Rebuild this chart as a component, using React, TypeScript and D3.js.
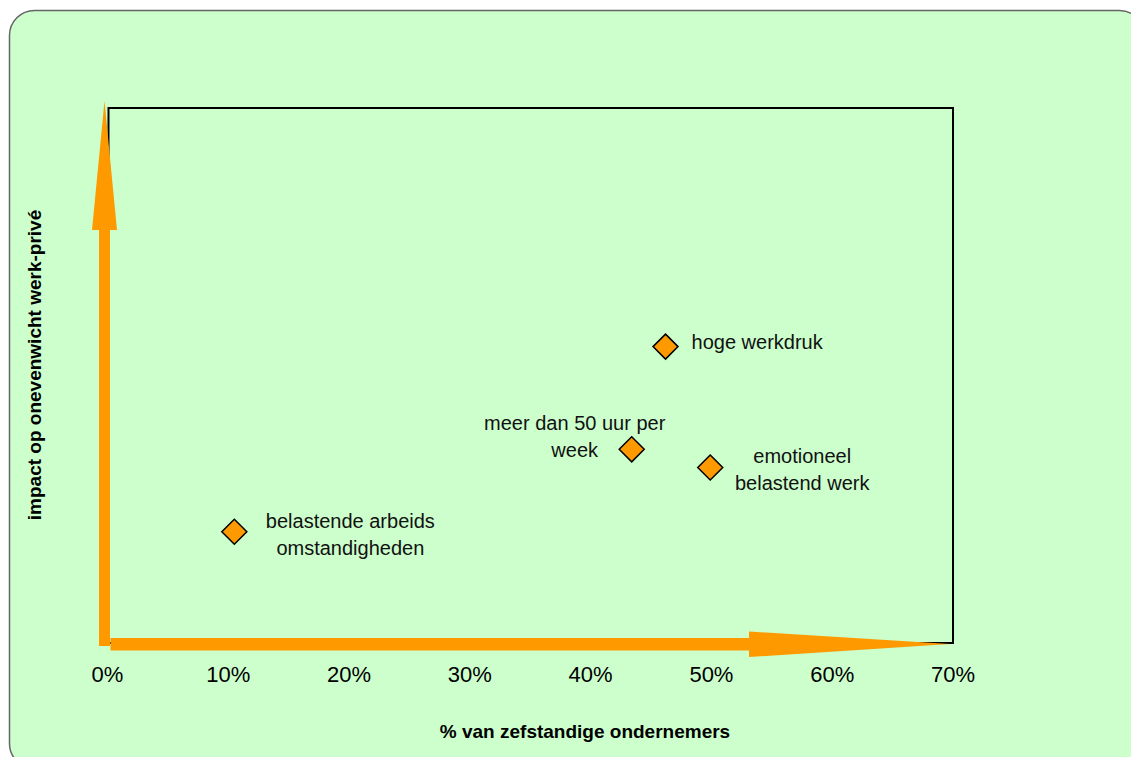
import React from "react";
import * as d3 from "d3";

const categories: string[][] = [
  ["hoge werkdruk"],
  ["meer dan 50 uur per", "week"],
  ["emotioneel", "belastend werk"],
  ["belastende arbeids", "omstandigheden"],
];
const xValues: number[] = [0.462, 0.434, 0.499, 0.105];
const yValues: number[] = [55.4, 36.2, 32.8, 20.8];
const xTicks: number[] = [0, 0.1, 0.2, 0.3, 0.4, 0.5, 0.6, 0.7];
const xTitle = "% van zefstandige ondernemers";
const yTitle = "impact op onevenwicht werk-privé";

// label placement relative to the marker (layout only)
const labelLayout = [
  { dx: 26, dy: 2.5, anchor: "start" },
  { dx: -57, dy: -19, anchor: "middle" },
  { dx: 92, dy: -5, anchor: "middle" },
  { dx: 116, dy: -4, anchor: "middle" },
];

const W = 1131;
const H = 757;
const FONT = "'Liberation Sans', Arial, sans-serif";
const ORANGE = "#FF9900";

export default function App() {
  const x = d3.scaleLinear().domain([0, 0.7]).range([107.5, 953]);
  const y = d3.scaleLinear().domain([0, 100]).range([643, 108]);
  const fmt = d3.format(".0%");

  const x0 = x(0);
  const x1 = x(0.7);
  const yTop = y(100);
  const yBot = y(0);

  const diamond = (cx: number, cy: number, r: number) =>
    `M${cx},${cy - r}L${cx + r},${cy}L${cx},${cy + r}L${cx - r},${cy}Z`;

  // y arrow geometry
  const yaCx = x0 - 3;
  const yArrow = `M${yaCx - 5.5},${yBot + 3}L${yaCx - 5.5},230L${yaCx - 12.5},230L${yaCx},${yTop - 7}L${yaCx + 12.5},230L${yaCx + 5.5},230L${yaCx + 5.5},${yBot + 3}Z`;
  // x arrow geometry
  const xaCy = yBot + 1;
  const xArrow = `M${x0 + 3},${xaCy - 6}L749,${xaCy - 6}L749,${xaCy - 12.5}L${x1 - 3},${xaCy}L749,${xaCy + 13}L749,${xaCy + 6.5}L${x0 + 3},${xaCy + 6.5}Z`;

  return (
    <svg
      width={W}
      height={H}
      style={{ position: "absolute", left: 0, top: 0, display: "block" }}
      fontFamily={FONT}
    >
      <rect
        x={9.5}
        y={10.5}
        width={1135}
        height={758}
        rx={25}
        ry={25}
        fill="#CCFFCC"
        stroke="#666666"
        strokeWidth={1.5}
      />
      <rect
        x={x0 + 1}
        y={yTop}
        width={x1 - x0 - 1}
        height={yBot - yTop}
        fill="none"
        stroke="#000"
        strokeWidth={2}
      />
      <path d={yArrow} fill={ORANGE} />
      <path d={xArrow} fill={ORANGE} />

      {xTicks.map((t) => (
        <text
          key={t}
          x={x(t)}
          y={682}
          textAnchor="middle"
          fontSize={22}
          fill="#000"
        >
          {fmt(t)}
        </text>
      ))}

      <text
        x={585}
        y={738}
        textAnchor="middle"
        fontSize={19}
        fontWeight="bold"
        fill="#000"
      >
        {xTitle}
      </text>
      <text
        transform={`translate(41,365) rotate(-90)`}
        textAnchor="middle"
        fontSize={19}
        fontWeight="bold"
        fill="#000"
      >
        {yTitle}
      </text>

      {xValues.map((xv, i) => {
        const cx = x(xv);
        const cy = y(yValues[i]);
        const lay = labelLayout[i];
        return (
          <g key={i}>
            <path
              d={diamond(cx, cy, 12.5)}
              fill={ORANGE}
              stroke="#000"
              strokeWidth={1.5}
            />
            <text
              x={cx + lay.dx}
              y={cy + lay.dy}
              textAnchor={lay.anchor as any}
              fontSize={20}
              fill="#111"
            >
              {categories[i].map((line, j) => (
                <tspan key={j} x={cx + lay.dx} dy={j === 0 ? 0 : 27}>
                  {line}
                </tspan>
              ))}
            </text>
          </g>
        );
      })}
    </svg>
  );
}
